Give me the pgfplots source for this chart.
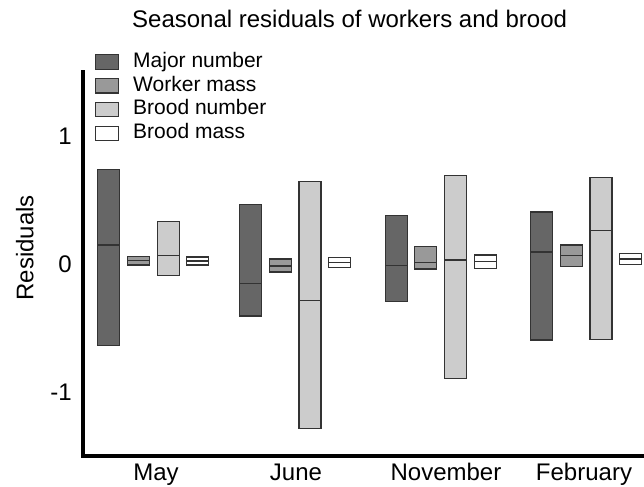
\documentclass[border=0pt]{standalone}
\usepackage{fontspec}
\setmainfont{Liberation Sans}
\usepackage{pgfplots}
\pgfplotsset{compat=1.18}

\definecolor{cMajor}{HTML}{666666}
\definecolor{cWorker}{HTML}{999999}
\definecolor{cBroodN}{HTML}{CCCCCC}
\definecolor{cBroodM}{HTML}{FFFFFF}
\definecolor{cEdge}{HTML}{333333}

\pgfplotsset{
  rbox/.style={fill=#1, draw=cEdge, line width=0.6pt, mark=none, forget plot},
}

\begin{document}
\begin{tikzpicture}
\useasboundingbox (0,0) rectangle (322pt,243.5pt);
\begin{axis}[
  at={(41.5pt,15.5pt)}, anchor=south west,
  scale only axis,
  width=279.5pt, height=192pt,
  xmin=83, xmax=642,
  ymin=-1.5, ymax=1.5,
  clip=false,
  axis lines=left,
  axis line style={-, line width=1.9pt, line cap=rect},
  tick style={draw=none},
  major tick length=0pt,
  xtick={156,296,446,584},
  xticklabels={May,June,November,February},
  ytick={-1,0,1},
  yticklabels={-1,0,1},
  tick label style={font=\fontsize{12}{14}\selectfont},
  xticklabel style={anchor=base, inner sep=0pt, yshift=-12.5pt},
  yticklabel style={anchor=east, inner sep=0pt, xshift=-5.5pt},
  ylabel={Residuals},
  ylabel style={at={(axis description cs:-0.104,0.542)}, anchor=center, font=\fontsize{12}{14}\selectfont},
  title={Seasonal residuals of workers and brood},
  every axis title shift=0pt,
  title style={at={(axis description cs:0.477,1.1146)}, anchor=base, inner sep=0pt, font=\fontsize{12}{14}\selectfont},
  legend image code/.code={\draw[#1] (0pt,-3.6pt) rectangle (11.5pt,3.6pt);},
  legend style={at={(axis description cs:0.0215,1.057)}, anchor=north west,
    draw=none, fill=none, inner sep=0pt, outer sep=0pt,
    row sep=0pt, column sep=6pt,
    font=\fontsize{10.5}{12}\selectfont,
    cells={anchor=west},
    nodes={inner sep=1pt, text height=7.6pt, text depth=2.3pt}},
]
\addlegendimage{fill=cMajor, draw=cEdge, line width=0.6pt}
\addlegendentry{Major number}
\addlegendimage{fill=cWorker, draw=cEdge, line width=0.6pt}
\addlegendentry{Worker mass}
\addlegendimage{fill=cBroodN, draw=cEdge, line width=0.6pt}
\addlegendentry{Brood number}
\addlegendimage{fill=cBroodM, draw=cEdge, line width=0.6pt}
\addlegendentry{Brood mass}

% each box: min -> max with a median line; path (x1,lo)(x2,lo)(x2,hi)(x1,hi)(x1,lo)(x1,med)(x2,med)(x1,med)
% May
\addplot[rbox=cMajor]  coordinates {(97.7,-0.638) (119.7,-0.638) (119.7,0.740) (97.7,0.740) (97.7,-0.638) (97.7,0.148) (119.7,0.148) (97.7,0.148)} --cycle;
\addplot[rbox=cWorker] coordinates {(127.5,-0.008) (149.5,-0.008) (149.5,0.060) (127.5,0.060) (127.5,-0.008) (127.5,0.025) (149.5,0.025) (127.5,0.025)} --cycle;
\addplot[rbox=cBroodN] coordinates {(157.3,-0.088) (179.3,-0.088) (179.3,0.334) (157.3,0.334) (157.3,-0.088) (157.3,0.068) (179.3,0.068) (157.3,0.068)} --cycle;
\addplot[rbox=cBroodM] coordinates {(186.8,-0.008) (208.8,-0.008) (208.8,0.055) (186.8,0.055) (186.8,-0.008) (186.8,0.023) (208.8,0.023) (186.8,0.023)} --cycle;
% June
\addplot[rbox=cMajor]  coordinates {(239.8,-0.406) (261.8,-0.406) (261.8,0.466) (239.8,0.466) (239.8,-0.406) (239.8,-0.151) (261.8,-0.151) (239.8,-0.151)} --cycle;
\addplot[rbox=cWorker] coordinates {(269.3,-0.062) (291.3,-0.062) (291.3,0.039) (269.3,0.039) (269.3,-0.062) (269.3,-0.016) (291.3,-0.016) (269.3,-0.016)} --cycle;
\addplot[rbox=cBroodN] coordinates {(299.0,-1.284) (321.0,-1.284) (321.0,0.643) (299.0,0.643) (299.0,-1.284) (299.0,-0.287) (321.0,-0.287) (299.0,-0.287)} --cycle;
\addplot[rbox=cBroodM] coordinates {(328.7,-0.029) (350.7,-0.029) (350.7,0.052) (328.7,0.052) (328.7,-0.029) (328.7,0.013) (350.7,0.013) (328.7,0.013)} --cycle;
% November
\addplot[rbox=cMajor]  coordinates {(385.3,-0.295) (407.3,-0.295) (407.3,0.380) (385.3,0.380) (385.3,-0.295) (385.3,-0.013) (407.3,-0.013) (385.3,-0.013)} --cycle;
\addplot[rbox=cWorker] coordinates {(414.8,-0.039) (436.8,-0.039) (436.8,0.135) (414.8,0.135) (414.8,-0.039) (414.8,0.013) (436.8,0.013) (414.8,0.013)} --cycle;
\addplot[rbox=cBroodN] coordinates {(444.5,-0.896) (466.5,-0.896) (466.5,0.690) (444.5,0.690) (444.5,-0.896) (444.5,0.031) (466.5,0.031) (444.5,0.031)} --cycle;
\addplot[rbox=cBroodM] coordinates {(474.3,-0.034) (496.3,-0.034) (496.3,0.070) (474.3,0.070) (474.3,-0.034) (474.3,0.021) (496.3,0.021) (474.3,0.021)} --cycle;
% February
\addplot[rbox=cMajor]  coordinates {(530.7,-0.594) (552.7,-0.594) (552.7,0.406) (530.7,0.406) (530.7,-0.594) (530.7,0.094) (552.7,0.094) (530.7,0.094)} --cycle;
\addplot[rbox=cWorker] coordinates {(560.3,-0.021) (582.3,-0.021) (582.3,0.148) (560.3,0.148) (560.3,-0.021) (560.3,0.065) (582.3,0.065) (560.3,0.065)} --cycle;
\addplot[rbox=cBroodN] coordinates {(590.0,-0.588) (612.0,-0.588) (612.0,0.674) (590.0,0.674) (590.0,-0.588) (590.0,0.260) (612.0,0.260) (590.0,0.260)} --cycle;
\addplot[rbox=cBroodM] coordinates {(619.2,-0.005) (641.2,-0.005) (641.2,0.080) (619.2,0.080) (619.2,-0.005) (619.2,0.039) (641.2,0.039) (619.2,0.039)} --cycle;
\end{axis}
\end{tikzpicture}
\end{document}
